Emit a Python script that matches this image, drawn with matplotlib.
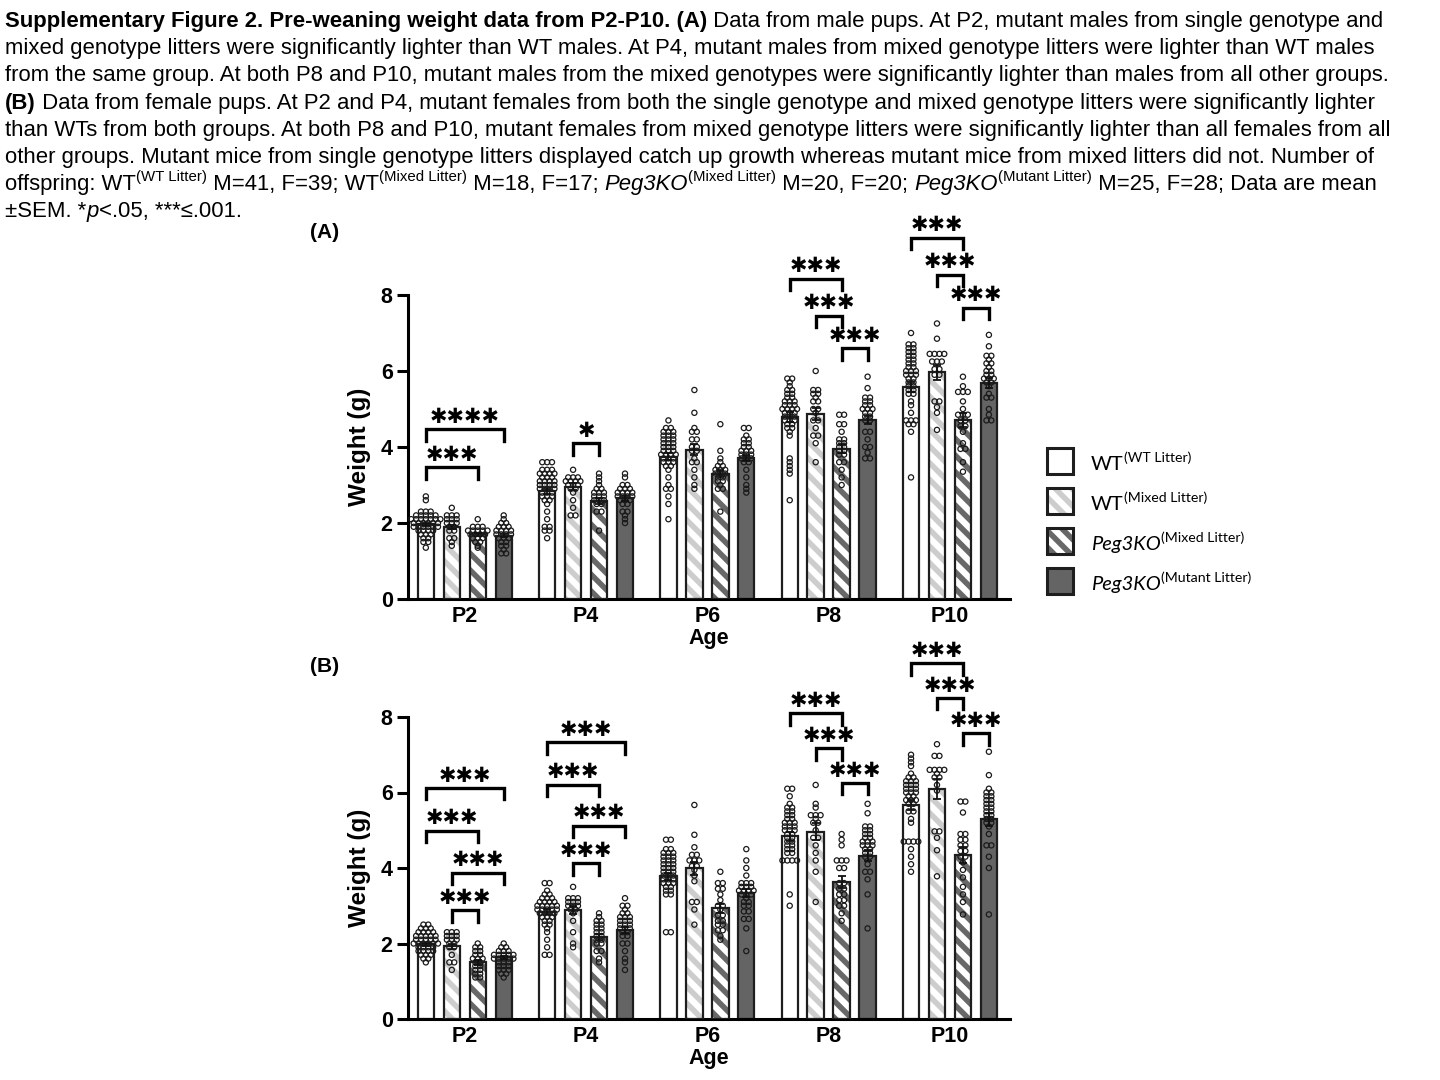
import numpy as np
import matplotlib
matplotlib.use("Agg")
import matplotlib.pyplot as plt
from matplotlib.patches import Rectangle

plt.rcParams['hatch.linewidth'] = 4.0
plt.rcParams['font.family'] = ['Liberation Sans', 'DejaVu Sans']

W, H = 1440, 1080

ages = ["P2", "P4", "P6", "P8", "P10"]
group_names = ["WT", "WT", "Peg3KO", "Peg3KO"]
group_sups = ["(WT Litter)", "(Mixed Litter)", "(Mixed Litter)", "(Mutant Litter)"]

# mean weight (g): rows = age, columns = group
male_mean = [
    [1.97, 1.90, 1.70, 1.67],
    [2.83, 2.96, 2.58, 2.65],
    [3.75, 3.93, 3.30, 3.70],
    [4.79, 4.87, 3.95, 4.71],
    [5.58, 5.97, 4.71, 5.68],
]
male_sem = [
    [0.04, 0.06, 0.05, 0.05],
    [0.07, 0.09, 0.08, 0.06],
    [0.09, 0.15, 0.10, 0.08],
    [0.12, 0.16, 0.12, 0.11],
    [0.13, 0.20, 0.18, 0.13],
]
female_mean = [
    [1.98, 1.93, 1.50, 1.63],
    [2.84, 2.89, 2.18, 2.37],
    [3.78, 3.99, 2.93, 3.33],
    [4.84, 4.96, 3.64, 4.33],
    [5.67, 6.09, 4.34, 5.29],
]
female_sem = [
    [0.04, 0.07, 0.06, 0.04],
    [0.07, 0.11, 0.08, 0.08],
    [0.09, 0.18, 0.12, 0.11],
    [0.12, 0.22, 0.16, 0.14],
    [0.14, 0.27, 0.21, 0.17],
]

# individual pups, written as "value*count"
male_pts = [
    ["2.7 2.6 2.3*3 2.2*5 2.1*7 2.0*6 1.9*6 1.8*4 1.7*3 1.6*2 1.5*2 1.35",
     "2.4 2.2*3 2.1*3 2.0*3 1.9*2 1.8*2 1.6*2 1.5 1.4",
     "2.1 1.9*3 1.8*5 1.7*4 1.6*3 1.5*2 1.4 1.35",
     "2.2 2.1 2.0*2 1.9*3 1.8*4 1.7*4 1.6*3 1.5*2 1.4*2 1.3 1.2*2"],
    ["3.6*3 3.4*3 3.3*4 3.2*3 3.1*4 3.0*4 2.9*4 2.8*3 2.7*3 2.6*2 2.5 2.3 2.1 1.9*2 1.8*2 1.6",
     "3.4 3.2*3 3.1*4 3.0*3 2.9*2 2.8 2.6 2.4 2.2*2",
     "3.3 3.2 3.1 3.0 2.9*2 2.8*3 2.7*3 2.6*3 2.5*2 2.3*2 1.8",
     "3.3 3.2 3.0*2 2.9*3 2.8*4 2.7*4 2.6*3 2.5*2 2.3*2 2.2 2.1 2.0"],
    ["4.7 4.5*2 4.4*3 4.3*3 4.2*3 4.1*3 4.0*3 3.9*3 3.8*4 3.7*3 3.6*3 3.5*2 3.4 3.2 3.0 2.9*2 2.7 2.5 2.1",
     "5.5 4.9 4.5 4.4*2 4.2*2 4.0*2 3.9*2 3.7 3.6*2 3.4 3.2 3.0 2.9",
     "4.6 3.9 3.7 3.6 3.5*2 3.4*3 3.3*3 3.2*2 3.1*2 3.0 2.9*2 2.3",
     "4.5*2 4.3 4.2*2 4.1*2 4.0*2 3.9*3 3.8*3 3.7*3 3.6*2 3.4 3.2 3.0 2.9 2.8"],
    ["5.8*2 5.7 5.6 5.5*2 5.4*2 5.3*2 5.2*3 5.1*3 5.0*4 4.9*3 4.8*3 4.7*3 4.6*2 4.5*2 4.4 4.3 3.7 3.6 3.5 3.4 3.3 2.6",
     "6.0 5.5*2 5.4*2 5.3 5.2*2 5.0*2 4.9 4.7*2 4.5 4.3*2 4.1 3.6",
     "4.85*2 4.6*2 4.4 4.2*2 4.1*2 4.0*2 3.9*2 3.8*2 3.6*2 3.4 3.2 3.0",
     "5.85 5.55 5.3*2 5.2*2 5.1*2 5.0*3 4.9*2 4.8*2 4.7*2 4.4*2 4.2 4.0*2 3.85 3.7*2"],
    ["7.0 6.7*2 6.6*2 6.5*2 6.4*2 6.3*2 6.2*2 6.1*2 6.0*3 5.9*3 5.8*2 5.7*2 5.6*2 5.5*2 5.4*2 5.2 5.1 4.9 4.7*3 4.6*2 4.4 3.2",
     "7.25 6.85 6.45*4 6.25*3 6.05*2 5.9*2 5.2*2 5.05 4.9 4.45",
     "5.85 5.6 5.45*3 5.2 5.0 4.85*3 4.7*2 4.55*2 4.4 4.1 3.95*2 3.6 3.35",
     "6.95 6.65 6.4*2 6.3 6.2*2 6.1 6.0*2 5.9*2 5.8*3 5.7*2 5.6 5.4 5.3*2 5.0 4.85 4.7*2"],
]
female_pts = [
    ["2.5*2 2.4*3 2.3*4 2.2*5 2.1*5 2.0*6 1.9*4 1.8*4 1.7*3 1.6*2 1.5",
     "2.3*3 2.2*3 2.1*3 2.0*2 1.9*2 1.7 1.5*2 1.3",
     "2.0 1.9*2 1.8*2 1.7*2 1.6*3 1.5*2 1.4*2 1.3*2 1.2*2 1.1*2",
     "2.0 1.9*2 1.8*3 1.7*5 1.6*5 1.5*3 1.4*3 1.3*3 1.2*2 1.1"],
    ["3.6*2 3.4 3.3*2 3.2*3 3.1*4 3.0*5 2.9*5 2.8*4 2.7*3 2.6*2 2.5*2 2.4 2.3 2.1 1.9 1.7*2",
     "3.5 3.2*3 3.1*3 3.0*3 2.9*2 2.8 2.6 2.3 2.0 1.9",
     "2.8 2.7 2.6*2 2.5*2 2.4*2 2.3*2 2.2*2 2.1*2 2.0*2 1.8*2 1.6 1.5",
     "3.2 3.0*2 2.9 2.8*2 2.7*3 2.6*3 2.5*3 2.4*3 2.3*2 2.2*2 2.0*2 1.8 1.6 1.5 1.3"],
    ["4.75*2 4.5*2 4.4*3 4.3*3 4.2*3 4.1*3 4.0*3 3.9*3 3.8*3 3.7*3 3.6*3 3.5*2 3.4*2 3.3*2 2.3*2",
     "5.67 4.88 4.55 4.35*2 4.2*3 4.05*2 3.95 3.8 3.65 3.1*2 2.9 2.5",
     "3.9 3.6*2 3.45*2 3.3 3.15 3.0*2 2.9 2.75*2 2.6*2 2.5*2 2.35*2 2.2 2.1",
     "4.5 4.2 4.0 3.8 3.6*3 3.5*3 3.4*4 3.3*3 3.2 3.1*2 3.0*2 2.85*2 2.65*2 2.4 1.8"],
    ["6.1*2 5.9 5.7 5.6*2 5.5*2 5.4*2 5.3*2 5.2*3 5.1*3 5.0*3 4.9*2 4.8*2 4.7*2 4.6*2 4.5*2 4.4*2 4.2*4 3.3 3.0",
     "6.2 5.7 5.6 5.4*3 5.3 5.2*2 5.0 4.8*2 4.6 4.4 4.2 3.9 3.1",
     "4.9 4.75 4.6 4.2*3 4.0*2 3.6*2 3.45*2 3.3*2 3.15*2 3.0*2 2.8 2.6",
     "5.7 5.45 5.1*2 5.0*2 4.9*2 4.8*2 4.7*3 4.6*3 4.5*2 4.4*2 4.3*2 4.1 3.9*2 3.7 3.3 2.4"],
    ["7.0 6.9 6.8 6.7 6.5 6.4*2 6.3*3 6.2*3 6.1*3 6.0*3 5.9*2 5.8*3 5.7*2 5.5*2 5.3 5.2 4.7*4 4.5 4.3 4.1 3.9",
     "7.28 6.97*2 6.6*4 6.5 6.4*2 6.2 6.05 4.97*2 4.8 4.47 3.78",
     "5.76*2 5.47 4.9*2 4.75*2 4.6*2 4.45*2 4.3*2 4.15 3.95 3.75 3.5 3.3 3.1 2.77",
     "7.08 6.46 6.1 6.0*2 5.9*2 5.8*2 5.7*2 5.6*2 5.5*2 5.4*2 5.3*2 5.2*2 5.1 4.9 4.6*2 4.3 4.0 2.77"],
]

# significance brackets: (age index, group a, group b, bracket height, label)
male_sig = [
    (0, 0, 3, 4.47, "****"), (0, 0, 2, 3.47, "***"), (1, 1, 2, 4.10, "*"),
    (3, 0, 2, 8.42, "***"), (3, 1, 2, 7.45, "***"), (3, 2, 3, 6.60, "***"),
    (4, 0, 2, 9.50, "***"), (4, 1, 2, 8.53, "***"), (4, 2, 3, 7.66, "***"),
]
female_sig = [
    (0, 0, 3, 6.12, "***"), (0, 0, 2, 4.99, "***"), (0, 1, 3, 3.88, "***"), (0, 1, 2, 2.88, "***"),
    (1, 0, 3, 7.33, "***"), (1, 0, 2, 6.20, "***"), (1, 1, 3, 5.12, "***"), (1, 1, 2, 4.12, "***"),
    (3, 0, 2, 8.10, "***"), (3, 1, 2, 7.17, "***"), (3, 2, 3, 6.25, "***"),
    (4, 0, 2, 9.42, "***"), (4, 1, 2, 8.50, "***"), (4, 2, 3, 7.57, "***"),
]

EDGE = "#1e1e1e"
LIGHT = "#cdcdcd"
DARK = "#686868"
SOLID = "#646464"
HATCH = "\\\\"
BAR_STEP = 0.214
BAR_W = 0.135


def parse_pts(s):
    vals = []
    for tok in s.split():
        if "*" in tok:
            v, n = tok.split("*")
            vals += [float(v)] * int(n)
        else:
            vals.append(float(tok))
    return vals


def draw_panel(ax, means, sems, pts, sig):
    x = np.arange(len(ages))
    for g in range(4):
        xs = x + (g - 1.5) * BAR_STEP
        m = [row[g] for row in means]
        e = [row[g] for row in sems]
        if g == 0:
            ax.bar(xs, m, BAR_W, color="white", edgecolor=EDGE, lw=1.6, zorder=2)
        elif g == 3:
            ax.bar(xs, m, BAR_W, color=SOLID, edgecolor=EDGE, lw=1.6, zorder=2)
        else:
            ax.bar(xs, m, BAR_W, color="white", edgecolor=LIGHT if g == 1 else DARK,
                   hatch=HATCH, lw=0, zorder=2)
            ax.bar(xs, m, BAR_W, fill=False, edgecolor=EDGE, lw=1.6, zorder=3)

        # dots, spread sideways when they share a value
        dx, dy = [], []
        for a in range(len(ages)):
            vals = parse_pts(pts[a][g])
            for v in sorted(set(vals), reverse=True):
                k = vals.count(v)
                for j in range(k):
                    dx.append(xs[a] + (j - (k - 1) / 2) * 0.04)
                    dy.append(v)
        ax.scatter(dx, dy, s=14, facecolors="none", edgecolors="#1a1a1a",
                   linewidths=0.9, zorder=4, clip_on=False)
        ax.errorbar(xs, m, yerr=e, fmt="none", ecolor="#111111", elinewidth=1.3,
                    capsize=3, capthick=1.3, zorder=5)

    for a, g1, g2, yb, lab in sig:
        x1 = a + (g1 - 1.5) * BAR_STEP
        x2 = a + (g2 - 1.5) * BAR_STEP
        ax.plot([x1, x1, x2, x2], [yb - 0.3, yb, yb, yb - 0.3], color="black",
                lw=2.4, clip_on=False, solid_joinstyle="miter", zorder=6)
        ax.text((x1 + x2) / 2, yb + 0.33, "\u2731" * len(lab), ha="center", va="center",
                fontsize=15, family="DejaVu Sans", color="black")

    ax.set_xlim(-0.468, 4.495)
    ax.set_ylim(0, 8)
    ax.set_yticks([0, 2, 4, 6, 8])
    ax.set_xticks(x)
    ax.set_xticklabels(ages, fontweight="bold", fontsize=15.5)
    for lab in ax.get_yticklabels():
        lab.set_fontweight("bold")
        lab.set_fontsize(15.5)
    ax.tick_params(axis="y", length=8, width=2.2, pad=3)
    ax.tick_params(axis="x", length=0, pad=5)
    for sp in ["top", "right"]:
        ax.spines[sp].set_visible(False)
    for sp in ["left", "bottom"]:
        ax.spines[sp].set_linewidth(2.2)
    ax.set_ylabel("Weight (g)", fontsize=17.5, fontweight="bold", labelpad=7)
    ax.set_xlabel("Age", fontsize=15.5, fontweight="bold", labelpad=1)
    ax.patch.set_alpha(0)


fig = plt.figure(figsize=(14.4, 10.8), dpi=100)
ax_a = fig.add_axes([408 / W, 1 - 599 / H, 602 / W, 304 / H])
ax_b = fig.add_axes([408 / W, 1 - 1019 / H, 602 / W, 302 / H])
draw_panel(ax_a, male_mean, male_sem, male_pts, male_sig)
draw_panel(ax_b, female_mean, female_sem, female_pts, female_sig)

fig.text(310 / W, 1 - 232 / H, "(A)", fontsize=15, fontweight="bold", va="center")
fig.text(310 / W, 1 - 667 / H, "(B)", fontsize=15, fontweight="bold", va="center")

r = fig.canvas.get_renderer()


def text_w(s, **kw):
    t1 = fig.text(0, 0, "|" + s + "|", **kw)
    t2 = fig.text(0, 0, "||", **kw)
    w = t1.get_window_extent(r).width - t2.get_window_extent(r).width
    t1.remove()
    t2.remove()
    return w


def draw_runs(x, base, runs, family, size, sup_scale=0.68, sup_rise=0.42):
    for s, st in runs:
        kw = dict(family=family, fontsize=size)
        rise = 0
        if "b" in st:
            kw["fontweight"] = "bold"
        if "i" in st:
            kw["fontstyle"] = "italic"
        if "s" in st:
            kw["fontsize"] = size * sup_scale
            rise = size * sup_rise * 100 / 72
        fig.text(x / W, 1 - (base - rise) / H, s, va="baseline", ha="left", **kw)
        x += text_w(s, **kw)
    return x


caption = [
    [("Supplementary Figure 2. Pre-weaning weight data from P2-P10. (A)", "b"),
     (" Data from male pups. At P2, mutant males from single genotype and", "")],
    [("mixed genotype litters were significantly lighter than WT males. At P4, mutant males from mixed genotype litters were lighter than WT males", "")],
    [("from the same group. At both P8 and P10, mutant males from the mixed genotypes were significantly lighter than males from all other groups.", "")],
    [("(B)", "b"),
     (" Data from female pups. At P2 and P4, mutant females from both the single genotype and mixed genotype litters were significantly lighter", "")],
    [("than WTs from both groups. At both P8 and P10, mutant females from mixed genotype litters were significantly lighter than all females from all", "")],
    [("other groups. Mutant mice from single genotype litters displayed catch up growth whereas mutant mice from mixed litters did not. Number of", "")],
    [("offspring: WT", ""), ("(WT Litter)", "s"), (" M=41, F=39; WT", ""), ("(Mixed Litter)", "s"),
     (" M=18, F=17; ", ""), ("Peg3KO", "i"), ("(Mixed Litter)", "s"), (" M=20, F=20; ", ""),
     ("Peg3KO", "i"), ("(Mutant Litter)", "s"), (" M=25, F=28; Data are mean", "")],
    [("\u00b1SEM. *", ""), ("p", "i"), ("<.05, ***\u2264.001.", "")],
]

# size the caption so the full third line spans the page width
cap_size = 10 * (1392 - 5) / text_w(caption[2][0][0], family="Liberation Sans", fontsize=10)
for i, line in enumerate(caption):
    draw_runs(5, 27 + i * 27.2, line, "Liberation Sans", cap_size)

# legend
styles = [("white", None), ("white", LIGHT), ("white", DARK), (SOLID, None)]
for i, (fc, hc) in enumerate(styles):
    top = 448 + 40 * i
    box = (1047 / W, 1 - (top + 26) / H)
    if hc is not None:
        fig.add_artist(Rectangle(box, 26 / W, 26 / H, transform=fig.transFigure,
                                 facecolor=fc, edgecolor=hc, hatch=HATCH, lw=0))
        fig.add_artist(Rectangle(box, 26 / W, 26 / H, transform=fig.transFigure,
                                 fill=False, edgecolor=EDGE, lw=2.2))
    else:
        fig.add_artist(Rectangle(box, 26 / W, 26 / H, transform=fig.transFigure,
                                 facecolor=fc, edgecolor=EDGE, lw=2.2))
    style = "i" if group_names[i] == "Peg3KO" else ""
    draw_runs(1091, top + 22, [(group_names[i], style), (group_sups[i], "s")], "Lato", 14.5,
              sup_scale=0.7, sup_rise=0.4)

fig.savefig("out.png", dpi=100)
